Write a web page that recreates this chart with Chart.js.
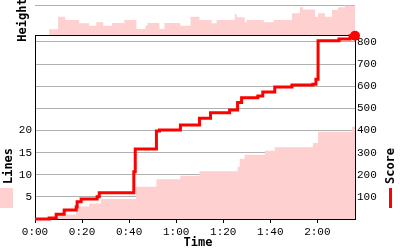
<!DOCTYPE html>
<html>
<head>
<meta charset="utf-8">
<script src="https://cdn.jsdelivr.net/npm/chart.js@4"></script>
<style>
  html, body { margin: 0; padding: 0; background: #fff; }
  #wrap { position: relative; width: 400px; height: 250px; overflow: hidden; }
  #heightChart { position: absolute; left: 0; top: 0; }
  #mainChart { position: absolute; left: 0; top: 0; }
  .ttl { position: absolute; font: bold 12px "DejaVu Sans Mono", monospace; color: #000; white-space: nowrap; transform: translate(-50%, -50%); }
  .rot { transform: translate(-50%, -50%) rotate(-90deg); }
  .sw { position: absolute; }
</style>
</head>
<body>
<div id="wrap">
  <canvas id="heightChart" width="400" height="35"></canvas>
  <canvas id="mainChart" width="400" height="250"></canvas>
  <div class="ttl rot" style="left:22px; top:20px;">Height</div>
  <div class="ttl rot" style="left:8px; top:166px;">Lines</div>
  <div class="sw" style="left:0; top:188px; width:13px; height:20px; background:#ffd0d0;"></div>
  <div class="ttl rot" style="left:390px; top:166px;">Score</div>
  <div class="sw" style="left:389px; top:188px; width:3px; height:20px; background:#ff0000;"></div>
  <div class="ttl" style="left:198px; top:242px;">Time</div>
</div>
<script>
// time in seconds
const scoreTimes  = [0, 6.0, 9.0, 12.4, 17.5, 17.9, 19.6, 26.4, 27.3, 42.0, 42.6, 51.6, 52.9, 61.8, 69.9, 74.6, 82.7, 86.1, 87.8, 94.7, 96.8, 101.9, 109.2, 118.1, 119.4, 120.3, 129.2, 133.9, 136];
const scoreValues = [0, 5, 21, 41, 54, 78, 90, 101, 119, 213, 316, 398, 402, 425, 455, 480, 493, 526, 548, 556, 574, 596, 605, 609, 631, 806, 813, 828, 828];

const lineTimes  = [0, 8.5, 17.5, 23.0, 28.1, 42.9, 51.6, 61.8, 69.9, 86.1, 87.0, 89.1, 97.7, 101.9, 118.1, 120.3, 134.8, 136];
const lineValues = [0, 1, 2.8, 3.5, 4.5, 7.3, 9.0, 9.8, 10.8, 11.8, 13.6, 14.5, 15.4, 16.2, 17.2, 19.7, 20.9, 20.9];

const heightTimes  = [0, 6.0, 9.8, 12.8, 18.8, 23.0, 26.0, 29.0, 32.8, 38.0, 43.1, 46.9, 47.8, 52.9, 55.0, 61.8, 66.1, 69.9, 75.1, 77.2, 84.9, 85.7, 89.1, 90.0, 97.2, 101.5, 109.2, 112.6, 113.9, 119.0, 120.3, 123.2, 126.2, 128.8, 131.8, 136];
const heightValues = [0, 3.8, 12.2, 10, 7.8, 6.2, 8.5, 6.2, 8, 10, 4, 6.2, 8, 4, 8, 6.2, 12.2, 10, 7.8, 10, 14, 11.8, 8.5, 10, 8.5, 10, 14.5, 18.5, 17, 12.2, 14.5, 12.2, 16.7, 18.5, 19.5, 19.5];

const timeTicks  = [0, 20, 40, 60, 80, 100, 120];
const scoreTicks = [100, 200, 300, 400, 500, 600, 700, 800];
const lineTicks  = [5, 10, 15, 20];

const TIME_MAX = 136;
const SCORE_MAX = 831.5;
const PINK = '#ffd0d0';
const GRID = '#b0b0b0';
const tickFont = { family: 'Liberation Mono', size: 11 };

const pts = (xs, ys) => xs.map((x, i) => ({ x, y: ys[i] }));
const fmtTime = v => Math.floor(v / 60) + ':' + String(v % 60).padStart(2, '0');

// top border of the plot box
const frameTop = {
  id: 'frameTop',
  beforeDatasetsDraw(chart) {
    const a = chart.chartArea, ctx = chart.ctx;
    ctx.save();
    ctx.strokeStyle = '#000';
    ctx.lineWidth = 1;
    ctx.beginPath();
    ctx.moveTo(a.left, a.top + 0.5);
    ctx.lineTo(a.right, a.top + 0.5);
    ctx.stroke();
    ctx.restore();
  }
};

new Chart(document.getElementById('heightChart'), {
  type: 'line',
  data: {
    datasets: [{
      data: pts(heightTimes, heightValues),
      stepped: 'before', fill: 'origin', backgroundColor: PINK,
      borderWidth: 0, pointRadius: 0
    }]
  },
  options: {
    responsive: false, animation: false,
    layout: { padding: { left: 35, right: 45, top: 5, bottom: 0 } },
    plugins: { legend: { display: false }, tooltip: { enabled: false } },
    scales: {
      x: { type: 'linear', min: 0, max: TIME_MAX, display: false },
      y: {
        min: 0, max: 20,
        ticks: { display: false },
        grid: { color: GRID, drawTicks: false },
        border: { display: false },
        afterBuildTicks: s => { s.ticks = [{ value: 20 }]; },
        afterFit: s => { s.width = 0; }
      }
    }
  }
});

new Chart(document.getElementById('mainChart'), {
  type: 'line',
  data: {
    datasets: [
      {
        label: 'Score', yAxisID: 'yS',
        data: pts(scoreTimes, scoreValues),
        stepped: 'before', borderColor: '#ff0000', borderWidth: 3, fill: false,
        pointRadius: c => c.dataIndex === scoreTimes.length - 1 ? 5 : 0,
        pointBackgroundColor: '#ff0000', pointBorderWidth: 0,
        clip: false
      },
      {
        label: 'Lines', yAxisID: 'yL',
        data: pts(lineTimes, lineValues),
        stepped: 'before', fill: 'origin', backgroundColor: PINK,
        borderWidth: 0, pointRadius: 0
      }
    ]
  },
  options: {
    responsive: false, animation: false,
    layout: { padding: { top: 35, left: 0, right: 0, bottom: 0 } },
    plugins: { legend: { display: false }, tooltip: { enabled: false } },
    scales: {
      x: {
        type: 'linear', min: 0, max: TIME_MAX,
        afterBuildTicks: s => { s.ticks = timeTicks.map(v => ({ value: v })); },
        afterFit: s => { s.height = 31; },
        ticks: { font: tickFont, color: '#000', padding: 2, maxRotation: 0, callback: v => fmtTime(v) },
        grid: { drawOnChartArea: false, drawTicks: true, tickLength: 4, color: '#000' },
        border: { color: '#000', width: 1 }
      },
      yL: {
        position: 'left', min: 0, max: SCORE_MAX / 20,
        afterBuildTicks: s => { s.ticks = lineTicks.map(v => ({ value: v })); },
        afterFit: s => { s.width = 35; },
        ticks: { font: tickFont, color: '#000', padding: 3 },
        grid: { drawOnChartArea: false, drawTicks: false },
        border: { color: '#000', width: 1 }
      },
      yS: {
        position: 'right', min: 0, max: SCORE_MAX, z: 1,
        afterBuildTicks: s => { s.ticks = scoreTicks.map(v => ({ value: v })); },
        afterFit: s => { s.width = 45; },
        ticks: { font: tickFont, color: '#000', padding: 2 },
        grid: { color: GRID, drawTicks: false },
        border: { color: '#000', width: 1 }
      }
    }
  },
  plugins: [frameTop]
});
</script>
</body>
</html>
